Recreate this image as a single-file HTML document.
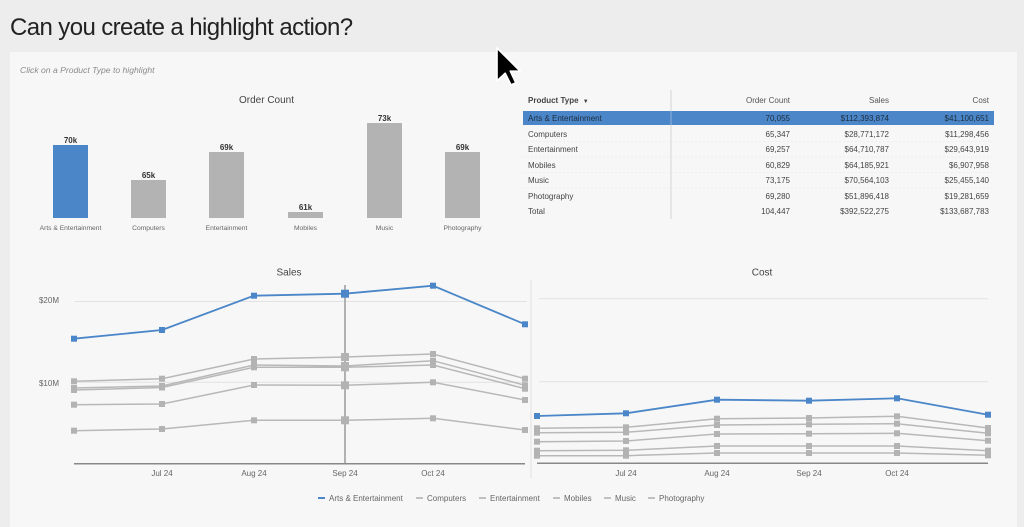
<!DOCTYPE html>
<html><head><meta charset="utf-8"><style>
html,body{margin:0;padding:0;background:#ededed;}
svg{display:block;font-family:"Liberation Sans",Arial,sans-serif;}
</style></head><body>
<svg width="1024" height="527" viewBox="0 0 1024 527" xmlns="http://www.w3.org/2000/svg">
<rect x="0" y="0" width="1024" height="527" fill="#ededed"/>
<text x="10" y="35" font-size="24" letter-spacing="-0.6" fill="#222">Can you create a highlight action?</text>
<rect x="10" y="52" width="1007" height="480" fill="#f7f7f7"/>
<text x="20" y="73" font-size="8.6" font-style="italic" fill="#8a8a8a">Click on a Product Type to highlight</text>

<!-- Order Count bar chart -->
<text x="266.5" y="103" font-size="10" text-anchor="middle" fill="#444">Order Count</text>
<g>
<rect x="53" y="145" width="35" height="73" fill="#4a86c8"/>
<rect x="131" y="180" width="35" height="38" fill="#b3b3b3"/>
<rect x="209" y="152" width="35" height="66" fill="#b3b3b3"/>
<rect x="288" y="212" width="35" height="6" fill="#b3b3b3"/>
<rect x="367" y="123" width="35" height="95" fill="#b3b3b3"/>
<rect x="445" y="152" width="35" height="66" fill="#b3b3b3"/>
</g>
<g font-size="8" font-weight="bold" fill="#333" text-anchor="middle">
<text x="70.5" y="143">70k</text>
<text x="148.5" y="178">65k</text>
<text x="226.5" y="150">69k</text>
<text x="305.5" y="210">61k</text>
<text x="384.5" y="121">73k</text>
<text x="462.5" y="150">69k</text>
</g>
<g font-size="6.7" fill="#666" text-anchor="middle">
<text x="70.5" y="230">Arts &amp; Entertainment</text>
<text x="148.5" y="230">Computers</text>
<text x="226.5" y="230">Entertainment</text>
<text x="305.5" y="230">Mobiles</text>
<text x="384.5" y="230">Music</text>
<text x="462.5" y="230">Photography</text>
</g>

<!-- Table -->
<line x1="671" y1="90" x2="671" y2="219" stroke="#d6d6d6" stroke-width="1"/>
<text x="528" y="103" font-size="8" font-weight="bold" fill="#444">Product Type <tspan font-size="6" dx="2">▼</tspan></text>
<g font-size="8" fill="#555" text-anchor="end">
<text x="790" y="103">Order Count</text>
<text x="889" y="103">Sales</text>
<text x="989" y="103">Cost</text>
</g>
<rect x="523" y="111" width="471" height="14" fill="#4a86c8"/>
<line x1="671" y1="111" x2="671" y2="125" stroke="#8fb3dd" stroke-width="1"/>
<g stroke="#e6e6e6" stroke-width="0.6" stroke-dasharray="2,2">
<line x1="523" y1="141.5" x2="994" y2="141.5"/>
<line x1="523" y1="157" x2="994" y2="157"/>
<line x1="523" y1="172.5" x2="994" y2="172.5"/>
<line x1="523" y1="188" x2="994" y2="188"/>
</g>
<g font-size="8" fill="#1f2d3d">
<text x="528" y="121">Arts &amp; Entertainment</text>
<text x="790" y="121" text-anchor="end">70,055</text>
<text x="889" y="121" text-anchor="end">$112,393,874</text>
<text x="989" y="121" text-anchor="end">$41,100,651</text>
</g>
<g font-size="8" fill="#444">
<text x="528" y="137">Computers</text>
<text x="528" y="152">Entertainment</text>
<text x="528" y="168">Mobiles</text>
<text x="528" y="183">Music</text>
<text x="528" y="199">Photography</text>
<text x="528" y="214">Total</text>
</g>
<g font-size="8" fill="#444" text-anchor="end">
<text x="790" y="137">65,347</text><text x="889" y="137">$28,771,172</text><text x="989" y="137">$11,298,456</text>
<text x="790" y="152">69,257</text><text x="889" y="152">$64,710,787</text><text x="989" y="152">$29,643,919</text>
<text x="790" y="168">60,829</text><text x="889" y="168">$64,185,921</text><text x="989" y="168">$6,907,958</text>
<text x="790" y="183">73,175</text><text x="889" y="183">$70,564,103</text><text x="989" y="183">$25,455,140</text>
<text x="790" y="199">69,280</text><text x="889" y="199">$51,896,418</text><text x="989" y="199">$19,281,659</text>
<text x="790" y="214">104,447</text><text x="889" y="214">$392,522,275</text><text x="989" y="214">$133,687,783</text>
</g>

<!-- Sales chart -->
<text x="289" y="275.5" font-size="10" text-anchor="middle" fill="#444">Sales</text>
<g stroke="#e2e2e2" stroke-width="1">
<line x1="75" y1="301.5" x2="527" y2="301.5"/>
<line x1="75" y1="382.3" x2="527" y2="382.3"/>
</g>
<g font-size="8" fill="#666" text-anchor="end">
<text x="59" y="303">$20M</text>
<text x="59" y="386">$10M</text>
</g>
<line x1="345" y1="285" x2="345" y2="463" stroke="#9a9a9a" stroke-width="1.5"/>
<g fill="none" stroke="#b8b8b8" stroke-width="1.5">
<polyline points="74,381.3 162,378.7 254,359 345,357 433,354 525,378.7"/>
<polyline points="74,388 162,386 254,365 345,366 433,360.7 525,385.3"/>
<polyline points="74,390 162,387.5 254,367.3 345,367.3 433,365 525,388.7"/>
<polyline points="74,404.7 162,404 254,385 345,385.3 433,382.3 525,400"/>
<polyline points="74,430.7 162,429 254,420.3 345,420.3 433,418.3 525,430"/>
</g>
<g fill="#b3b3b3">
<rect x="71" y="378.3" width="6" height="6"/><rect x="159" y="375.7" width="6" height="6"/><rect x="251" y="356" width="6" height="6"/><rect x="341" y="353" width="8" height="8"/><rect x="430" y="351" width="6" height="6"/><rect x="522" y="375.7" width="6" height="6"/>
<rect x="71" y="385" width="6" height="6"/><rect x="159" y="383" width="6" height="6"/><rect x="251" y="362" width="6" height="6"/><rect x="341" y="362" width="8" height="8"/><rect x="430" y="357.7" width="6" height="6"/><rect x="522" y="382.3" width="6" height="6"/>
<rect x="71" y="387" width="6" height="6"/><rect x="159" y="384.5" width="6" height="6"/><rect x="251" y="364.3" width="6" height="6"/><rect x="341" y="363.3" width="8" height="8"/><rect x="430" y="362" width="6" height="6"/><rect x="522" y="385.7" width="6" height="6"/>
<rect x="71" y="401.7" width="6" height="6"/><rect x="159" y="401" width="6" height="6"/><rect x="251" y="382" width="6" height="6"/><rect x="341" y="381.3" width="8" height="8"/><rect x="430" y="379.3" width="6" height="6"/><rect x="522" y="397" width="6" height="6"/>
<rect x="71" y="427.7" width="6" height="6"/><rect x="159" y="426" width="6" height="6"/><rect x="251" y="417.3" width="6" height="6"/><rect x="341" y="416.3" width="8" height="8"/><rect x="430" y="415.3" width="6" height="6"/><rect x="522" y="427" width="6" height="6"/>
</g>
<polyline points="74,338.7 162,330 254,295.7 345,293.7 433,285.7 525,324.3" fill="none" stroke="#4a86c8" stroke-width="1.8"/>
<g fill="#4a86c8">
<rect x="71" y="335.7" width="6" height="6"/><rect x="159" y="327" width="6" height="6"/><rect x="251" y="292.7" width="6" height="6"/><rect x="341" y="289.7" width="8" height="8"/><rect x="430" y="282.7" width="6" height="6"/><rect x="522" y="321.3" width="6" height="6"/>
</g>
<line x1="74" y1="463.7" x2="525" y2="463.7" stroke="#888" stroke-width="1.5"/>
<g font-size="8" fill="#666" text-anchor="middle">
<text x="162" y="476">Jul 24</text>
<text x="254" y="476">Aug 24</text>
<text x="345" y="476">Sep 24</text>
<text x="433" y="476">Oct 24</text>
</g>

<line x1="531" y1="280" x2="531" y2="478" stroke="#e2e2e2" stroke-width="1"/>

<!-- Cost chart -->
<text x="762" y="275.5" font-size="10" text-anchor="middle" fill="#444">Cost</text>
<g stroke="#e2e2e2" stroke-width="1">
<line x1="539" y1="298.7" x2="988" y2="298.7"/>
<line x1="539" y1="381.7" x2="988" y2="381.7"/>
</g>
<g fill="none" stroke="#b8b8b8" stroke-width="1.5">
<polyline points="537,428.3 626,427.3 717,418.7 809,418 897,416.3 988,428"/>
<polyline points="537,432.7 626,432.3 717,425 809,424.3 897,423.7 988,433.3"/>
<polyline points="537,441.7 626,441 717,434 809,433.7 897,433.3 988,440.7"/>
<polyline points="537,450.7 626,450.3 717,446 809,446 897,446 988,450.7"/>
<polyline points="537,455.7 626,455.7 717,453 809,453 897,453 988,455.3"/>
</g>
<g fill="#b3b3b3">
<rect x="534" y="425.3" width="6" height="6"/><rect x="623" y="424.3" width="6" height="6"/><rect x="714" y="415.7" width="6" height="6"/><rect x="806" y="415" width="6" height="6"/><rect x="894" y="413.3" width="6" height="6"/><rect x="985" y="425" width="6" height="6"/>
<rect x="534" y="429.7" width="6" height="6"/><rect x="623" y="429.3" width="6" height="6"/><rect x="714" y="422" width="6" height="6"/><rect x="806" y="421.3" width="6" height="6"/><rect x="894" y="420.7" width="6" height="6"/><rect x="985" y="430.3" width="6" height="6"/>
<rect x="534" y="438.7" width="6" height="6"/><rect x="623" y="438" width="6" height="6"/><rect x="714" y="431" width="6" height="6"/><rect x="806" y="430.7" width="6" height="6"/><rect x="894" y="430.3" width="6" height="6"/><rect x="985" y="437.7" width="6" height="6"/>
<rect x="534" y="447.7" width="6" height="6"/><rect x="623" y="447.3" width="6" height="6"/><rect x="714" y="443" width="6" height="6"/><rect x="806" y="443" width="6" height="6"/><rect x="894" y="443" width="6" height="6"/><rect x="985" y="447.7" width="6" height="6"/>
<rect x="534" y="452.7" width="6" height="6"/><rect x="623" y="452.7" width="6" height="6"/><rect x="714" y="450" width="6" height="6"/><rect x="806" y="450" width="6" height="6"/><rect x="894" y="450" width="6" height="6"/><rect x="985" y="452.3" width="6" height="6"/>
</g>
<polyline points="537,416 626,413.3 717,399.7 809,400.7 897,398.3 988,414.7" fill="none" stroke="#4a86c8" stroke-width="1.8"/>
<g fill="#4a86c8">
<rect x="534" y="413" width="6" height="6"/><rect x="623" y="410.3" width="6" height="6"/><rect x="714" y="396.7" width="6" height="6"/><rect x="806" y="397.7" width="6" height="6"/><rect x="894" y="395.3" width="6" height="6"/><rect x="985" y="411.7" width="6" height="6"/>
</g>
<line x1="537" y1="463.3" x2="988" y2="463.3" stroke="#888" stroke-width="1.5"/>
<g font-size="8" fill="#666" text-anchor="middle">
<text x="626" y="476">Jul 24</text>
<text x="717" y="476">Aug 24</text>
<text x="809" y="476">Sep 24</text>
<text x="897" y="476">Oct 24</text>
</g>

<!-- Legend -->
<g stroke-width="1.6">
<line x1="318" y1="498" x2="325" y2="498" stroke="#4a86c8" stroke-width="2"/>
<line x1="416" y1="498" x2="423" y2="498" stroke="#b3b3b3"/>
<line x1="479" y1="498" x2="486" y2="498" stroke="#b3b3b3"/>
<line x1="553" y1="498" x2="560" y2="498" stroke="#b3b3b3"/>
<line x1="604" y1="498" x2="611" y2="498" stroke="#b3b3b3"/>
<line x1="648" y1="498" x2="655" y2="498" stroke="#b3b3b3"/>
</g>
<g font-size="8" fill="#666">
<text x="329" y="501">Arts &amp; Entertainment</text>
<text x="427" y="501">Computers</text>
<text x="490" y="501">Entertainment</text>
<text x="564" y="501">Mobiles</text>
<text x="615" y="501">Music</text>
<text x="659" y="501">Photography</text>
</g>

<!-- Cursor -->
<g transform="translate(497,48) scale(2.05)">
<polygon points="0,0 0,16 4,12.3 6.8,18 9.2,17 6.5,11.3 11.3,11.3" fill="#000" stroke="#fff" stroke-width="0.8" stroke-linejoin="round"/>
</g>
</svg>
</body></html>
